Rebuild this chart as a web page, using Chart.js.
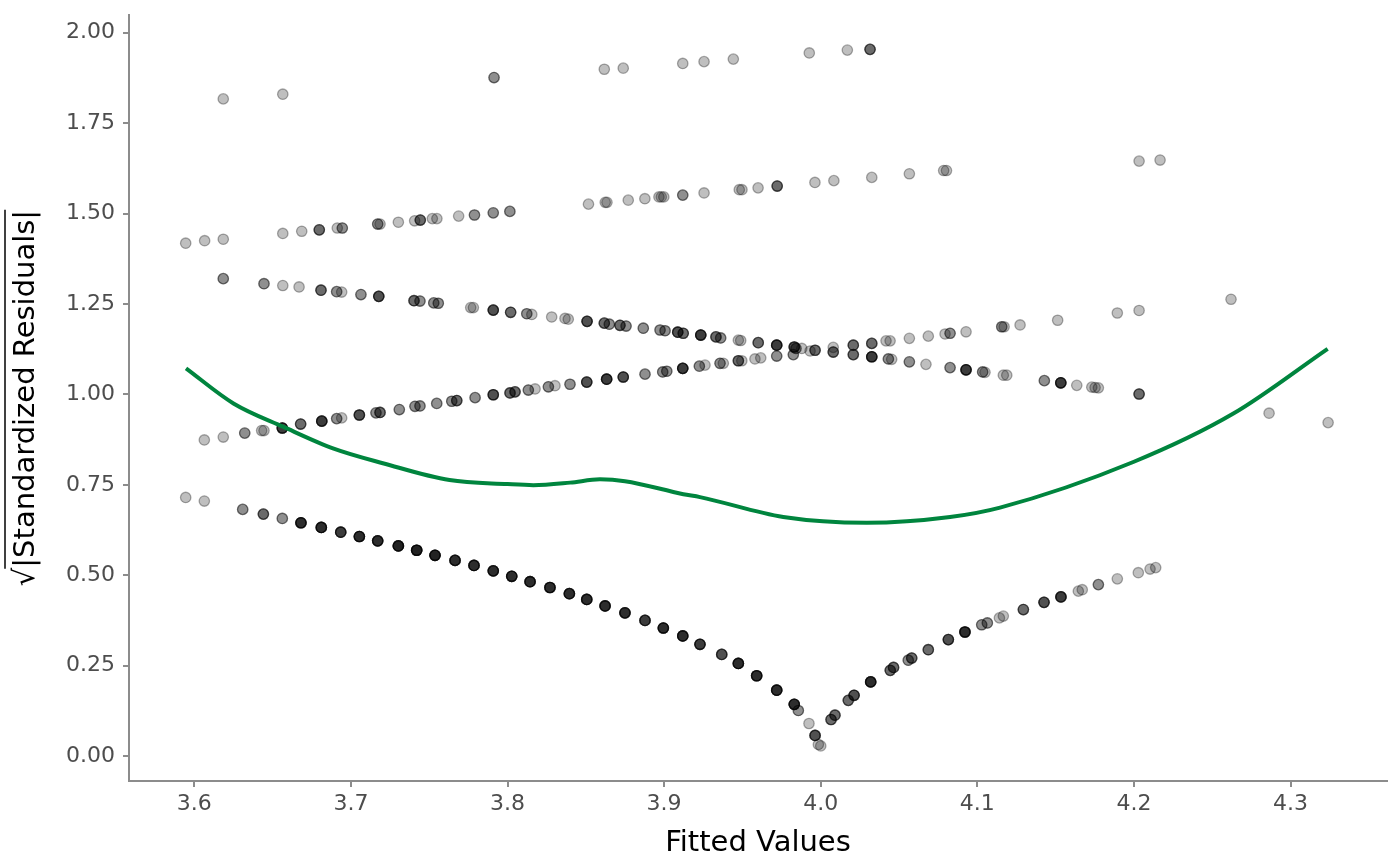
<!DOCTYPE html>
<html lang="en">
  <head>
    <title>Scale-location</title>
    <meta charset="utf-8">
    <style>
      body { margin: 0; background: #fff; }
    </style>
  </head>
  <body>
    <canvas id="myChart" width="1400" height="865"></canvas>

    <script src="https://cdn.jsdelivr.net/npm/chart.js@4.4.0/dist/chart.umd.min.js"></script>
    <script>
    // axis ticks
    const xTicks = [3.6, 3.7, 3.8, 3.9, 4.0, 4.1, 4.2, 4.3]
    const yTicks = [0, 0.25, 0.5, 0.75, 1.0, 1.25, 1.5, 1.75, 2.0]

    // top band (~1.8 - 1.95); n = how many observations sit on top of each other
    const topX = [3.6185, 3.6565, 3.7914, 3.8618, 3.8739, 3.9119, 3.9255, 3.9442, 3.9927, 4.0170, 4.0315]
    const topY = [1.817, 1.830, 1.876, 1.899, 1.902, 1.915, 1.920, 1.927, 1.944, 1.952, 1.954]
    const topN = [1, 1, 2, 1, 1, 1, 1, 1, 1, 1, 3]

    // second band (~1.42 - 1.65)
    const upX = [3.5945, 3.6066, 3.6185, 3.6565, 3.6686, 3.6798, 3.6913, 3.6945, 3.7171, 3.7186,
                 3.7303, 3.7407, 3.7443, 3.7520, 3.7549, 3.7688, 3.7789, 3.7909, 3.8015,
                 3.8517, 3.8624, 3.8635, 3.8771, 3.8877, 3.8967, 3.8982, 3.8998, 3.9119, 3.9255,
                 3.9480, 3.9497, 3.9600, 3.9722, 3.9963, 4.0084, 4.0326, 4.0566, 4.0785, 4.0803,
                 4.2033, 4.2167]
    const upY = [1.418, 1.425, 1.429, 1.445, 1.451, 1.455, 1.460, 1.460, 1.471, 1.471,
                 1.476, 1.480, 1.482, 1.486, 1.486, 1.493, 1.496, 1.502, 1.506,
                 1.526, 1.531, 1.531, 1.537, 1.541, 1.546, 1.546, 1.546, 1.551, 1.557,
                 1.566, 1.566, 1.571, 1.576, 1.586, 1.591, 1.600, 1.610, 1.619, 1.619,
                 1.645, 1.648]
    const upN = [1, 1, 1, 1, 1, 3, 1, 2, 2, 1,
                 1, 1, 3, 1, 1, 1, 2, 2, 2,
                 1, 1, 1, 1, 1, 1, 1, 1, 2, 1,
                 1, 1, 1, 3, 1, 1, 1, 1, 1, 1,
                 1, 1]

    // falling band (~1.32 -> 0.92)
    const fallX = [3.6185, 3.6445, 3.6565, 3.6669, 3.6809, 3.6909, 3.6941, 3.7064, 3.7178, 3.7403,
                   3.7441, 3.7529, 3.7558, 3.7765, 3.7782, 3.7909, 3.8020, 3.8123, 3.8155, 3.8282,
                   3.8367, 3.8388, 3.8508, 3.8618, 3.8650, 3.8718, 3.8757, 3.8867, 3.8974, 3.9006,
                   3.9087, 3.9122, 3.9234, 3.9331, 3.9361, 3.9474, 3.9489, 3.9601, 3.9719, 3.9831,
                   3.9842, 3.9879, 3.9964, 4.0080, 4.0208, 4.0326, 4.0432, 4.0453, 4.0566, 4.0672,
                   4.0826, 4.0928, 4.1034, 4.1049, 4.1166, 4.1188, 4.1428, 4.1533, 4.1635, 4.1731,
                   4.1752, 4.1773, 4.2033, 4.2863, 4.3240]
    const fallY = [1.320, 1.306, 1.301, 1.297, 1.288, 1.284, 1.283, 1.276, 1.271, 1.259,
                   1.258, 1.253, 1.252, 1.240, 1.240, 1.233, 1.227, 1.223, 1.221, 1.214,
                   1.210, 1.208, 1.202, 1.197, 1.194, 1.191, 1.189, 1.183, 1.178, 1.176,
                   1.172, 1.169, 1.164, 1.159, 1.156, 1.150, 1.149, 1.143, 1.136, 1.131,
                   1.127, 1.127, 1.122, 1.117, 1.110, 1.104, 1.098, 1.097, 1.090, 1.083,
                   1.074, 1.068, 1.062, 1.061, 1.053, 1.053, 1.038, 1.032, 1.025, 1.020,
                   1.019, 1.018, 1.001, 0.948, 0.922]
    const fallN = [2, 2, 1, 1, 3, 2, 1, 2, 4, 3,
                   2, 2, 2, 1, 1, 4, 3, 2, 1, 1,
                   1, 1, 4, 3, 2, 3, 2, 2, 2, 2,
                   4, 3, 5, 3, 2, 1, 1, 3, 5, 4,
                   2, 1, 3, 3, 3, 5, 2, 1, 2, 1,
                   2, 5, 2, 1, 1, 1, 2, 5, 1, 1,
                   1, 1, 3, 1, 1]

    // rising band (~0.87 -> 1.26)
    const riseX = [3.6064, 3.6185, 3.6322, 3.6430, 3.6445, 3.6562, 3.6679, 3.6814, 3.6909, 3.6941,
                   3.7054, 3.7160, 3.7186, 3.7309, 3.7409, 3.7441, 3.7548, 3.7644, 3.7676, 3.7793,
                   3.7909, 3.8016, 3.8048, 3.8133, 3.8176, 3.8261, 3.8303, 3.8399, 3.8506, 3.8633,
                   3.8739, 3.8878, 3.8991, 3.9017, 3.9119, 3.9225, 3.9261, 3.9357, 3.9378, 3.9474,
                   3.9496, 3.9580, 3.9617, 3.9719, 3.9825, 3.9932, 4.0080, 4.0208, 4.0326, 4.0417,
                   4.0443, 4.0566, 4.0687, 4.0794, 4.0826, 4.0928, 4.1156, 4.1171, 4.1273, 4.1513,
                   4.1894, 4.2033, 4.2620]
    const riseY = [0.874, 0.882, 0.893, 0.900, 0.900, 0.907, 0.918, 0.926, 0.933, 0.935,
                   0.943, 0.949, 0.950, 0.958, 0.967, 0.968, 0.975, 0.981, 0.983, 0.991,
                   0.999, 1.004, 1.007, 1.012, 1.015, 1.021, 1.024, 1.028, 1.034, 1.042,
                   1.048, 1.056, 1.062, 1.064, 1.072, 1.078, 1.081, 1.086, 1.086, 1.093,
                   1.093, 1.098, 1.101, 1.106, 1.110, 1.120, 1.130, 1.136, 1.141, 1.148,
                   1.148, 1.155, 1.161, 1.167, 1.169, 1.173, 1.187, 1.187, 1.192, 1.205,
                   1.225, 1.232, 1.263]
    const riseN = [1, 1, 2, 1, 1, 5, 3, 5, 2, 1,
                   4, 2, 3, 2, 2, 2, 2, 2, 3, 2,
                   4, 3, 3, 2, 1, 2, 1, 2, 4, 5,
                   4, 2, 2, 2, 5, 2, 1, 2, 1, 3,
                   1, 1, 1, 2, 2, 1, 1, 3, 3, 1,
                   1, 1, 1, 1, 2, 1, 2, 1, 1, 1,
                   1, 1, 1]

    // lowest band, the V that touches zero near 4.0
    const lowX = [3.5945, 3.6064, 3.6309, 3.6441, 3.6562, 3.6681, 3.6811, 3.6935, 3.7054, 3.7171,
                  3.7303, 3.7420, 3.7537, 3.7665, 3.7786, 3.7909, 3.8027, 3.8144, 3.8271, 3.8395,
                  3.8506, 3.8623, 3.8750, 3.8878, 3.8995, 3.9119, 3.9229, 3.9368, 3.9474, 3.9591,
                  3.9719, 3.9831, 3.9857, 3.9925, 3.9964, 3.9985, 4.0000, 4.0066, 4.0091, 4.0176,
                  4.0213, 4.0319, 4.0444, 4.0465, 4.0559, 4.0581, 4.0687, 4.0815, 4.0921, 4.1028,
                  4.1064, 4.1141, 4.1166, 4.1294, 4.1426, 4.1534, 4.1645, 4.1670, 4.1773, 4.1894,
                  4.2028, 4.2103, 4.2139]
    const lowY = [0.715, 0.705, 0.682, 0.669, 0.657, 0.645, 0.632, 0.619, 0.607, 0.595,
                  0.581, 0.569, 0.555, 0.541, 0.527, 0.512, 0.497, 0.482, 0.466, 0.449,
                  0.433, 0.415, 0.396, 0.375, 0.354, 0.332, 0.309, 0.281, 0.256, 0.222,
                  0.182, 0.143, 0.126, 0.090, 0.057, 0.032, 0.028, 0.101, 0.113, 0.154,
                  0.168, 0.205, 0.237, 0.245, 0.265, 0.271, 0.294, 0.322, 0.343, 0.363,
                  0.368, 0.382, 0.387, 0.405, 0.425, 0.440, 0.456, 0.460, 0.474, 0.490,
                  0.507, 0.517, 0.521]
    const lowN = [1, 1, 2, 3, 2, 6, 6, 5, 6, 6,
                  7, 7, 7, 6, 6, 6, 6, 6, 6, 6,
                  6, 6, 6, 5, 6, 6, 5, 4, 6, 6,
                  6, 6, 2, 1, 4, 1, 1, 3, 3, 3,
                  4, 6, 3, 3, 2, 3, 3, 4, 6, 2,
                  2, 1, 1, 3, 4, 5, 1, 1, 2, 1,
                  1, 1, 1]

    // smoothed trend line
    const smoothX = [3.5947, 3.625, 3.657, 3.689, 3.721, 3.763, 3.800, 3.8165, 3.840, 3.859,
                     3.875, 3.9123, 3.9229, 3.9761, 4.0294, 4.0826, 4.1145, 4.1996, 4.2635, 4.3237]
    const smoothY = [1.072, 0.975, 0.910, 0.850, 0.809, 0.763, 0.752, 0.749, 0.756, 0.765,
                     0.760, 0.724, 0.716, 0.661, 0.645, 0.661, 0.687, 0.813, 0.947, 1.126]

    function expand(xs, ys, ns) {
      let pts = []
      for (let i = 0; i < xs.length; i++) {
        for (let k = 0; k < ns[i]; k++) pts.push({ x: xs[i], y: ys[i] })
      }
      return pts
    }

    const points = [].concat(
      expand(topX, topY, topN),
      expand(upX, upY, upN),
      expand(fallX, fallY, fallN),
      expand(riseX, riseY, riseN),
      expand(lowX, lowY, lowN)
    )
    const smooth = smoothX.map((x, i) => ({ x: x, y: smoothY[i] }))

    const axisGrey = '#8c8c8c'
    const tickFont = { family: 'DejaVu Sans', size: 22 }
    const titleSize = 29

    // axis titles drawn by hand so the y title can carry the sqrt and overline
    const titles = {
      id: 'titles',
      afterDraw(chart) {
        const ctx = chart.ctx
        const area = chart.chartArea
        ctx.save()
        ctx.fillStyle = '#000'
        ctx.font = titleSize + 'px "DejaVu Sans"'
        ctx.textAlign = 'center'
        ctx.textBaseline = 'middle'
        ctx.fillText('Fitted Values', (area.left + area.right) / 2, 843)

        const label = '|Standardized Residuals|'
        const root = '√'
        const wRoot = ctx.measureText(root).width
        const wLabel = ctx.measureText(label).width
        const cy = (area.top + area.bottom) / 2
        ctx.translate(34, cy)
        ctx.rotate(-Math.PI / 2)
        ctx.textAlign = 'left'
        ctx.textBaseline = 'alphabetic'
        const start = -(wRoot + wLabel) / 2
        ctx.fillText(root, start, 0)
        ctx.fillText(label, start + wRoot, 0)
        ctx.strokeStyle = '#000'
        ctx.lineWidth = 1.5
        ctx.beginPath()
        ctx.moveTo(start + wRoot - 1, -titleSize)
        ctx.lineTo(start + wRoot + wLabel, -titleSize)
        ctx.stroke()
        ctx.restore()
      }
    }

    const ctx = document.getElementById('myChart').getContext('2d')
    window.myChart = new Chart(ctx, {
      type: 'scatter',
      data: {
        datasets: [{
          label: 'smooth',
          data: smooth,
          showLine: true,
          borderColor: '#00853e',
          borderWidth: 4,
          pointRadius: 0,
          tension: 0.4,
          cubicInterpolationMode: 'monotone',
          order: 0
        }, {
          label: 'residuals',
          data: points,
          backgroundColor: 'rgba(0,0,0,0.25)',
          borderColor: 'rgba(0,0,0,0.32)',
          borderWidth: 1.3,
          pointRadius: 5.2,
          order: 1
        }]
      },
      options: {
        responsive: false,
        animation: false,
        layout: { padding: { left: 0, right: 13, top: 15, bottom: 0 } },
        plugins: { legend: { display: false }, tooltip: { enabled: false } },
        scales: {
          x: {
            type: 'linear',
            min: 3.5583,
            max: 4.3616,
            afterBuildTicks: s => { s.ticks = xTicks.map(v => ({ value: v })) },
            afterFit: s => { s.height = 84; s.paddingLeft = 0; s.paddingRight = 0 },
            ticks: { callback: v => v.toFixed(1), font: tickFont, color: '#4d4d4d', padding: 4, maxRotation: 0 },
            grid: { display: true, drawOnChartArea: false, drawTicks: true, tickLength: 6, color: axisGrey, lineWidth: 2 },
            border: { display: true, color: axisGrey, width: 2 }
          },
          y: {
            min: -0.069,
            max: 2.049,
            afterBuildTicks: s => { s.ticks = yTicks.map(v => ({ value: v })) },
            afterFit: s => { s.width = 129; s.paddingTop = 0; s.paddingBottom = 0 },
            ticks: { callback: v => v.toFixed(2), font: tickFont, color: '#4d4d4d', padding: 8 },
            grid: { display: true, drawOnChartArea: false, drawTicks: true, tickLength: 6, color: axisGrey, lineWidth: 2 },
            border: { display: true, color: axisGrey, width: 2 }
          }
        }
      },
      plugins: [titles]
    })
    </script>
  </body>
</html>
